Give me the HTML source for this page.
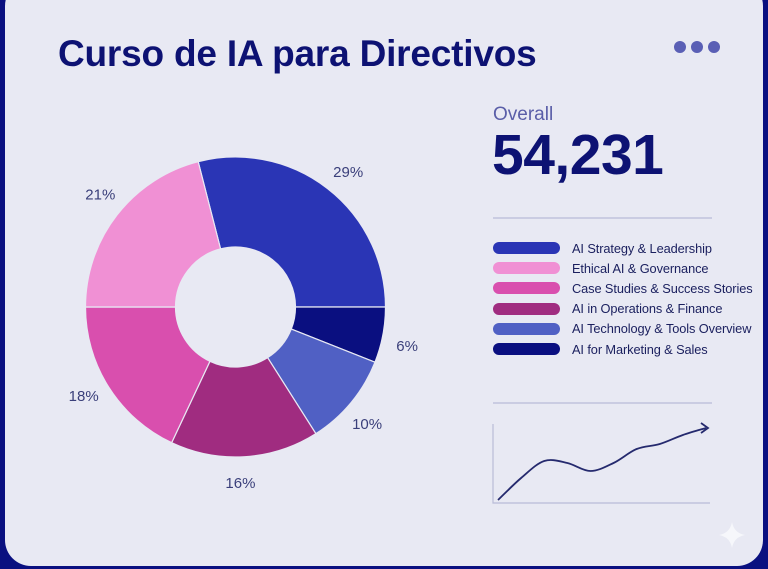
<!DOCTYPE html>
<html><head><meta charset="utf-8"><style>
html,body{margin:0;padding:0;}
body{width:768px;height:569px;background:#0a1080;position:relative;overflow:hidden;font-family:"Liberation Sans",sans-serif;}
#card{position:absolute;left:5px;top:-20px;width:758px;height:586px;background:#e8e9f3;border-radius:26px;}
#title{position:absolute;left:58px;top:33px;font-size:37px;font-weight:bold;color:#0d1273;letter-spacing:-0.2px;white-space:nowrap;}
.dot{position:absolute;top:41px;width:12px;height:12px;border-radius:50%;background:#5a5fb5;}
#overall{position:absolute;left:493px;top:104px;font-size:19px;color:#5a5ea8;}
#big{position:absolute;left:492px;top:122px;font-size:57px;font-weight:bold;color:#0d1273;letter-spacing:-0.5px;}
.leg{position:absolute;left:493px;height:20px;display:flex;align-items:center;}
.sw{width:67px;height:12px;border-radius:6px;margin-right:12px;}
.lt{font-size:12.8px;color:#1a1f5e;white-space:nowrap;letter-spacing:-0.1px;}
svg{position:absolute;left:0;top:0;}
</style></head><body>
<div id="card"></div>
<div id="title">Curso de IA para Directivos</div>
<div class="dot" style="left:674px"></div>
<div class="dot" style="left:691px"></div>
<div class="dot" style="left:708px"></div>
<div id="overall">Overall</div>
<div id="big">54,231</div>
<div id="legend"></div>
<svg id="chart" width="768" height="569"></svg>
<script>
const categories=["AI Strategy & Leadership","Ethical AI & Governance","Case Studies & Success Stories","AI in Operations & Finance","AI Technology & Tools Overview","AI for Marketing & Sales"];
const shares=[29,21,18,16,10,6];
const colors=["#2a35b5","#f090d4","#d94fae","#a02c80","#5060c4","#0a0f80"];
// drawing order clockwise from start angle
const order=[0,5,4,3,2,1];
const trendX=[0,1,2,3,4,5,6,7,8,9];
const trendY=[1,23,40,38,30,38,52,57,66,73];

const NS="http://www.w3.org/2000/svg";
const svg=document.getElementById('chart');
function mk(t,a){const e=document.createElementNS(NS,t);for(const k in a)e.setAttribute(k,a[k]);svg.appendChild(e);return e;}
const cx=235.5,cy=307,R=150,r=60;
const total=shares.reduce((a,b)=>a+b,0);
function pt(ang,rad){const a=(ang-90)*Math.PI/180;return [cx+rad*Math.cos(a),cy+rad*Math.sin(a)];}
let ang=-14.4;
order.forEach(i=>{
  const sweep=shares[i]/total*360,a0=ang,a1=ang+sweep;ang=a1;
  const p0=pt(a0,R),p1=pt(a1,R),q1=pt(a1,r),q0=pt(a0,r),lg=sweep>180?1:0;
  const d=`M${p0[0]},${p0[1]}A${R},${R} 0 ${lg} 1 ${p1[0]},${p1[1]}L${q1[0]},${q1[1]}A${r},${r} 0 ${lg} 0 ${q0[0]},${q0[1]}Z`;
  const s=mk('path',{d:d,fill:colors[i],stroke:'#e8e9f3','stroke-width':1.2});
  
  
  const lp=pt((a0+a1)/2+2,R+26);
  const t=mk('text',{x:lp[0],y:lp[1]+5,'text-anchor':'middle','font-size':15,fill:'#3a3f7a','font-family':'Liberation Sans, sans-serif'});
  t.textContent=shares[i]+'%';
  
  
});
[218,403].forEach(y=>{const l=mk('line',{x1:493,x2:712,y1:y,y2:y,stroke:'#b9bcd8','stroke-width':1.2});});
const ax=mk('path',{d:'M493,424V503H710',fill:'none',stroke:'#b9bcd8','stroke-width':1.2});


const xs=v=>498+v*(706-498)/9, ys=v=>501-v;
const P=trendX.map((x,i)=>[xs(x),ys(trendY[i])]);
let d='M'+P[0][0]+','+P[0][1];
for(let i=0;i<P.length-1;i++){
  const p0=P[Math.max(0,i-1)],p1=P[i],p2=P[i+1],p3=P[Math.min(P.length-1,i+2)];
  const c1=[p1[0]+(p2[0]-p0[0])/6,p1[1]+(p2[1]-p0[1])/6],c2=[p2[0]-(p3[0]-p1[0])/6,p2[1]-(p3[1]-p1[1])/6];
  d+=`C${c1[0]},${c1[1]} ${c2[0]},${c2[1]} ${p2[0]},${p2[1]}`;
}
const ln=mk('path',{d:d,fill:'none',stroke:'#252a6e','stroke-width':1.8});


const ex=P[P.length-1][0],ey=P[P.length-1][1];
const ar=mk('path',{d:`M${ex-5},${ey-5}L${ex+2},${ey}L${ex-5},${ey+5}`,fill:'none',stroke:'#252a6e','stroke-width':1.8});


const sp=mk('path',{d:'M732,522Q734,533 745,535Q734,537 732,548Q730,537 719,535Q730,533 732,522Z',fill:'#f6f7fb'});


const leg=document.getElementById('legend');
categories.forEach((c,i)=>{
  const row=document.createElement('div');row.className='leg';row.style.top=(238+i*20.2)+'px';
  
  
  const sw=document.createElement('div');sw.className='sw';sw.style.background=colors[i];
  
  
  const t=document.createElement('div');t.className='lt';t.textContent=c;
  
  
  row.appendChild(sw);row.appendChild(t);leg.appendChild(row);
});
</script>
</body></html>
